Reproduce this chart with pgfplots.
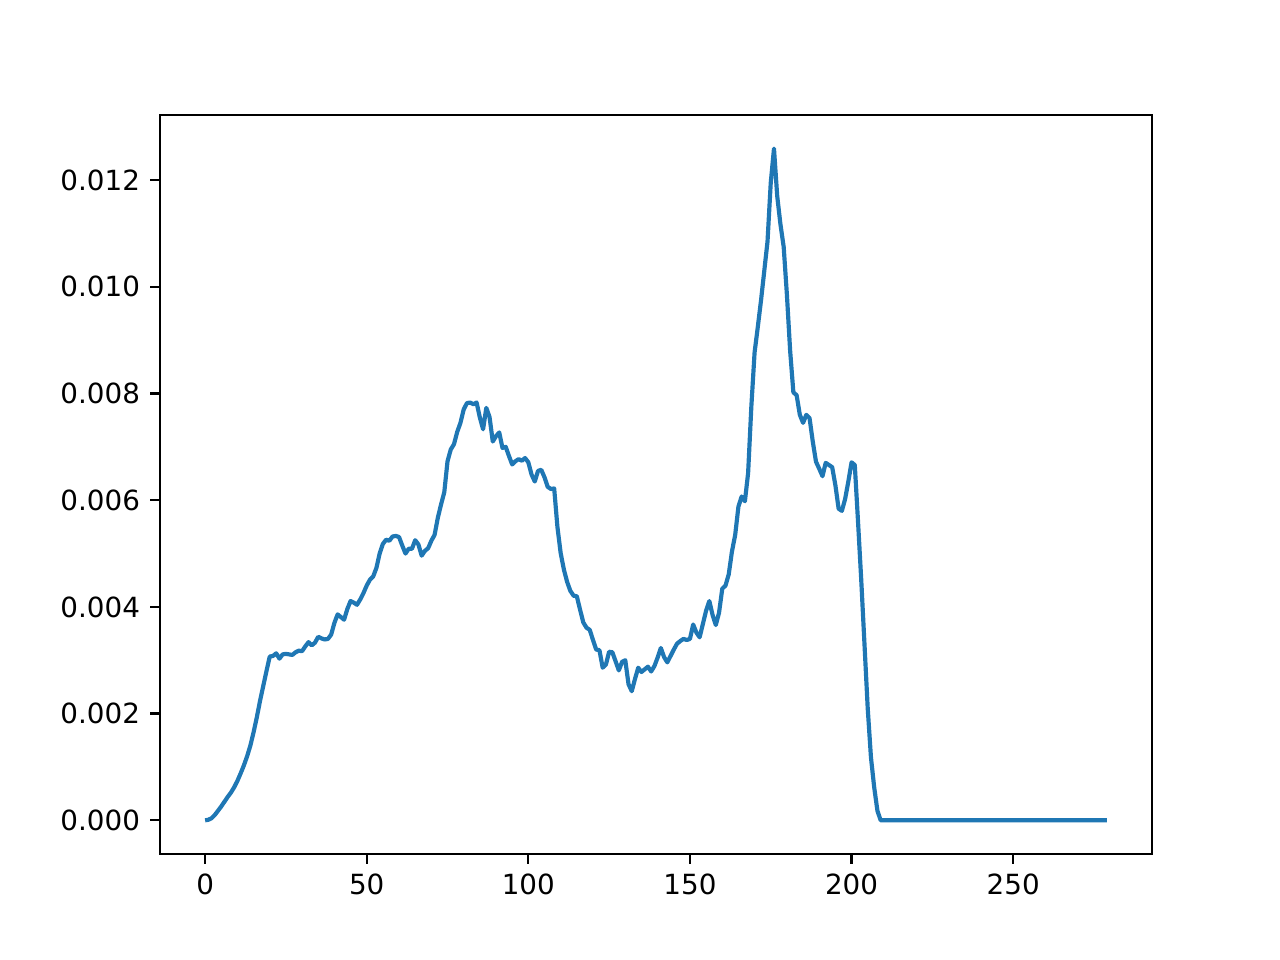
\documentclass[border=0pt]{standalone}
\usepackage{pgfplots}
\pgfplotsset{compat=1.18}
\usepackage{fontspec}
\setmainfont{DejaVu Sans}
\definecolor{mplblue}{HTML}{1F77B4}
\begin{document}
\begin{tikzpicture}
\begin{axis}[
  name=ax,
  scale only axis,
  width=357.1pt, height=266.0pt,
  xmin=-13.95, xmax=292.95,
  ymin=-0.00063, ymax=0.01322,
  xtick={0,50,100,150,200,250},
  ytick={0,0.002,0.004,0.006,0.008,0.010,0.012},
  scaled y ticks=false,
  y tick label style={/pgf/number format/fixed, /pgf/number format/fixed zerofill, /pgf/number format/precision=3},
  /pgf/number format/assume math mode=true,
  tick align=outside,
  tick pos=left,
  major tick length=3.5pt,
  every tick/.style={line width=0.8pt, black},
  axis line style={line width=0.8pt},
  tick label style={font=\fontsize{10}{12}\selectfont},
  x tick label style={inner sep=0pt, yshift=-3.5pt, anchor=north},
  y tick label style={inner sep=0pt, xshift=-3.5pt, anchor=east},
]
\addplot[mplblue, line width=1.5pt, line join=round] coordinates {
(0,0) (1,0.00001) (2,0.00004) (3,0.00010) (4,0.00018) (5,0.00026) (6,0.00035) (7,0.00044) (8,0.00052) (9,0.00062)
(10,0.00074) (11,0.00088) (12,0.00103) (13,0.00120) (14,0.00140) (15,0.00165) (16,0.00193) (17,0.00224) (18,0.00252) (19,0.00280)
(20,0.00307) (21,0.00308) (22,0.00313) (23,0.00303) (24,0.00311) (25,0.00312) (26,0.00311) (27,0.00310) (28,0.00315) (29,0.00318)
(30,0.00317) (31,0.00326) (32,0.00334) (33,0.00328) (34,0.00333) (35,0.00344) (36,0.00341) (37,0.00339) (38,0.00340) (39,0.00348)
(40,0.00370) (41,0.00386) (42,0.00381) (43,0.00376) (44,0.00396) (45,0.00411) (46,0.00408) (47,0.00404) (48,0.00414) (49,0.00426)
(50,0.00440) (51,0.00451) (52,0.00457) (53,0.00473) (54,0.00500) (55,0.00518) (56,0.00526) (57,0.00524) (58,0.00532) (59,0.00533)
(60,0.00531) (61,0.00515) (62,0.00500) (63,0.00509) (64,0.00509) (65,0.00525) (66,0.00517) (67,0.00496) (68,0.00505) (69,0.00510)
(70,0.00524) (71,0.00535) (72,0.00567) (73,0.00592) (74,0.00615) (75,0.00673) (76,0.00695) (77,0.00705) (78,0.00728) (79,0.00745)
(80,0.00770) (81,0.00782) (82,0.00783) (83,0.00780) (84,0.00783) (85,0.00755) (86,0.00733) (87,0.00773) (88,0.00756) (89,0.00710)
(90,0.00720) (91,0.00727) (92,0.00698) (93,0.00700) (94,0.00683) (95,0.00667) (96,0.00673) (97,0.00677) (98,0.00674) (99,0.00679)
(100,0.00671) (101,0.00648) (102,0.00635) (103,0.00655) (104,0.00657) (105,0.00643) (106,0.00625) (107,0.00621) (108,0.00622) (109,0.00550)
(110,0.00501) (111,0.00470) (112,0.00447) (113,0.00430) (114,0.00421) (115,0.00420) (116,0.00395) (117,0.00371) (118,0.00361) (119,0.00357)
(120,0.00338) (121,0.00320) (122,0.00319) (123,0.00286) (124,0.00292) (125,0.00316) (126,0.00315) (127,0.00298) (128,0.00281) (129,0.00297)
(130,0.00300) (131,0.00255) (132,0.00242) (133,0.00265) (134,0.00286) (135,0.00278) (136,0.00283) (137,0.00288) (138,0.00279) (139,0.00289)
(140,0.00305) (141,0.00323) (142,0.00306) (143,0.00296) (144,0.00308) (145,0.00320) (146,0.00331) (147,0.00336) (148,0.00340) (149,0.00338)
(150,0.00340) (151,0.00367) (152,0.00352) (153,0.00343) (154,0.00368) (155,0.00393) (156,0.00411) (157,0.00385) (158,0.00366) (159,0.00389)
(160,0.00434) (161,0.00440) (162,0.00461) (163,0.00504) (164,0.00535) (165,0.00588) (166,0.00607) (167,0.00598) (168,0.00651) (169,0.00776)
(170,0.00877) (171,0.00925) (172,0.00975) (173,0.01030) (174,0.01085) (175,0.01195) (176,0.01259) (177,0.01170) (178,0.01117) (179,0.01075)
(180,0.00985) (181,0.00880) (182,0.00802) (183,0.00797) (184,0.00760) (185,0.00745) (186,0.00760) (187,0.00754) (188,0.00710) (189,0.00672)
(190,0.00659) (191,0.00645) (192,0.00670) (193,0.00666) (194,0.00662) (195,0.00628) (196,0.00584) (197,0.00580) (198,0.00602) (199,0.00635)
(200,0.00671) (201,0.00666) (202,0.00560) (203,0.00450) (204,0.00330) (205,0.00210) (206,0.00118) (207,0.00062) (208,0.00018) (209,0)
(279,0)
};
\end{axis}
\path[use as bounding box] ([xshift=-57.6pt,yshift=-38.16pt]ax.south west) rectangle ([xshift=46.08pt,yshift=41.4pt]ax.north east);
\end{tikzpicture}
\end{document}
